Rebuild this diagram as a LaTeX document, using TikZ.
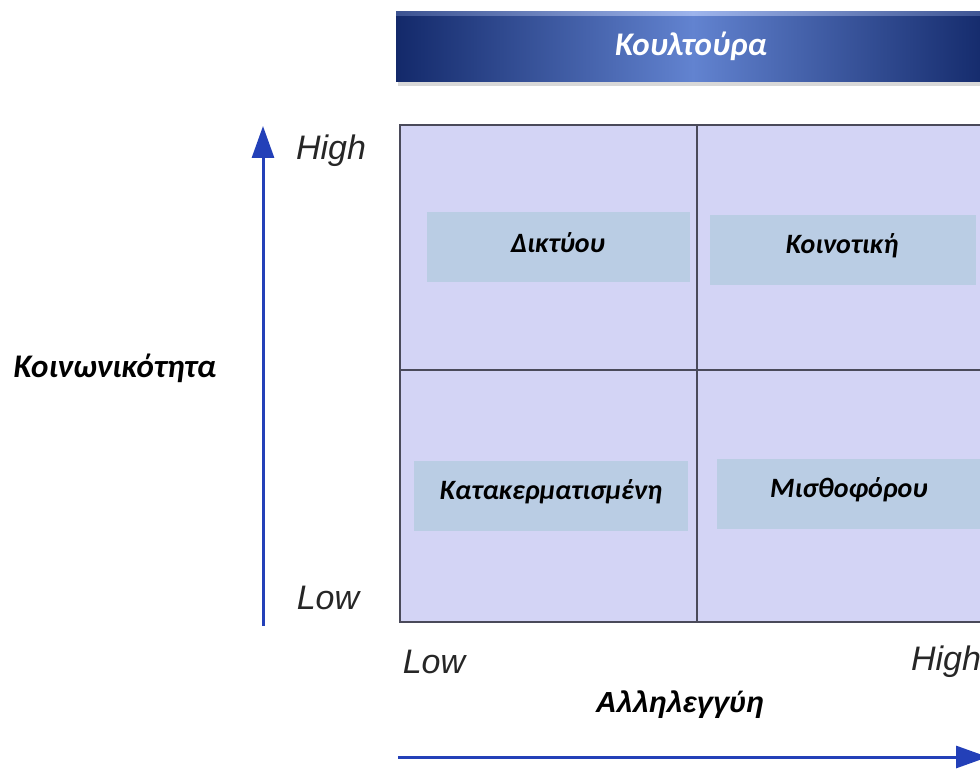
\documentclass[tikz,border=0pt]{standalone}
\usepackage{fontspec}
\setmainfont{Carlito}
\newfontfamily\arialf{Liberation Sans}
\usetikzlibrary{arrows.meta,shadows}
\definecolor{lav}{HTML}{D3D4F5}
\definecolor{boxc}{HTML}{BACDE4}
\definecolor{gridc}{HTML}{4A4A5A}
\definecolor{arrc}{HTML}{2340B8}
\definecolor{navy}{HTML}{13296A}
\definecolor{midb}{HTML}{6283D0}
\definecolor{hilite}{HTML}{9DB4EC}
\tikzset{
  cellbox/.style={fill=boxc, draw=none, minimum width=264pt, minimum height=70pt},
  celltext/.style={font=\bfseries\itshape\fontsize{28}{30}\selectfont, text=black},
  ticklbl/.style={font=\arialf\itshape\fontsize{34}{36}\selectfont, text=black!85},
  axarrow/.style={draw=arrc, line width=3pt, -{Stealth[length=32pt,width=22pt,inset=0pt]}},
}
\begin{document}
\begin{tikzpicture}[x=1pt,y=-1pt]
\useasboundingbox (0,0) rectangle (980,770);
% banner
\fill[black!30, opacity=0.5] (398,15) rectangle (990,86);
\shade[left color=navy, right color=navy, middle color=midb] (396,12) rectangle (990,82);
\shade[left color=navy!70!hilite, right color=navy!70!hilite, middle color=hilite] (396,12) rectangle (990,16);
\node[font=\bfseries\itshape\fontsize{33}{35}\selectfont, text=white] (title) at (691,46) {Κουλτούρα};
% grid
\draw[fill=lav, draw=gridc, line width=1.5pt] (400,125) rectangle (994,622);
\coordinate (vt) at (697,125);
\coordinate (vb) at (697,622);
\coordinate (hl) at (400,370);
\coordinate (hr) at (994,370);
\draw[gridc, line width=1.5pt] (vt) -- (vb);
\draw[gridc, line width=1.5pt] (hl) -- (hr);
% cell boxes
\node[cellbox, minimum width=263pt] (net) at (558,247) {};
\node[cellbox, minimum width=266pt] (com) at (843,250) {};
\node[cellbox, minimum width=274pt] (frag) at (551,496) {};
\node[cellbox, minimum width=270pt] (merc) at (852,494) {};
\node[celltext] (nett) at (558,243) {Δικτύου};
\node[celltext] (comt) at (842,246) {Κοινοτική};
\node[celltext] (fragt) at (551,492) {Κατακερματισμένη};
\node[celltext] (merct) at (849,490) {Μισθοφόρου};
% vertical axis
\coordinate (vs) at (263,626);
\coordinate (ve) at (263,126);
\draw[axarrow] (vs) -- (ve);
\node[ticklbl] (yhigh) at (331,151) {High};
\node[ticklbl] (ylow) at (328,598) {Low};
\node[font=\bfseries\itshape\fontsize{33}{35}\selectfont] (ylab) at (115,368) {Κοινωνικότητα};
% horizontal axis
\node[ticklbl] (xlow) at (434,662) {Low};
\node[ticklbl] (xhigh) at (946,662) {High};
\node[font=\arialf\bfseries\itshape\fontsize{29}{31}\selectfont] (xlab) at (680,705) {Αλληλεγγύη};
\coordinate (hs) at (398,757);
\coordinate (he) at (988,757);
\draw[axarrow] (hs) -- (he);
\end{tikzpicture}
\end{document}
